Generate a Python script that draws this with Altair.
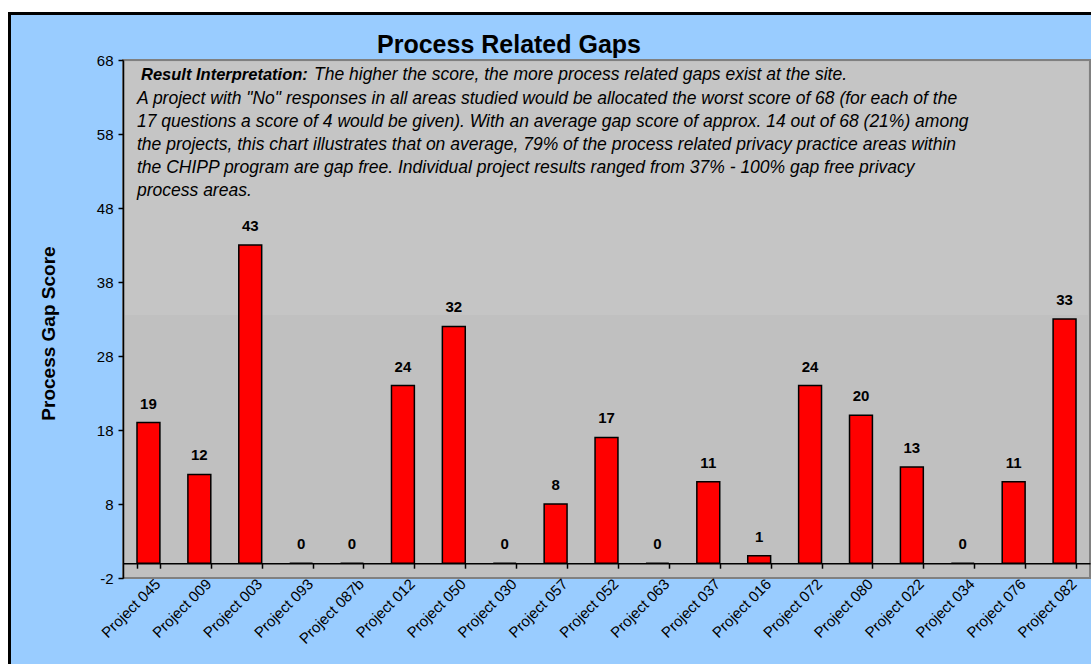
import altair as alt
import pandas as pd

# ---- data ----
projects = ["Project 045", "Project 009", "Project 003", "Project 093", "Project 087b",
            "Project 012", "Project 050", "Project 030", "Project 057", "Project 052",
            "Project 063", "Project 037", "Project 016", "Project 072", "Project 080",
            "Project 022", "Project 034", "Project 076", "Project 082"]
scores = [19, 12, 43, 0, 0, 24, 32, 0, 8, 17, 0, 11, 1, 24, 20, 13, 0, 11, 33]
y_ticks = [-2, 8, 18, 28, 38, 48, 58, 68]
title_text = "Process Related Gaps"
y_title = "Process Gap Score"
note_head = "Result Interpretation:"
note_first = "The higher the score, the more process related gaps exist at the site."
note_lines = [
    'A project with "No" responses in all areas studied would be allocated the worst score of 68 (for each of the',
    '17 questions a score of 4 would be given). With an average gap score of approx. 14 out of 68 (21%) among',
    'the projects, this chart illustrates that on average, 79% of the process related privacy practice areas within',
    'the CHIPP program are gap free. Individual project results ranged from 37% - 100% gap free privacy',
    'process areas.',
]

W, H = 967, 518
FONT = "Liberation Sans"
NOTE_SIZE = 17.5
HEAD_SIZE = 16.5

df = pd.DataFrame({"project": projects, "score": scores})
one = pd.DataFrame({"k": [0]})

x_enc = alt.X(
    "project:N", sort=projects, title=None,
    scale=alt.Scale(paddingInner=0.55, paddingOuter=0.275),
    axis=alt.Axis(
        offset=-14.8, domainColor="black", domainWidth=1.5, tickColor="black",
        tickWidth=1.5, tickSize=5, tickBand="extent", labelAngle=-45,
        labelAlign="right", labelBaseline="top", labelPadding=8, labelOffset=4,
        labelFont=FONT, labelFontSize=15, labelColor="black", zindex=2,
    ),
)
y_enc = alt.Y(
    "score:Q",
    scale=alt.Scale(domain=[-2, 68], nice=False, zero=False),
    axis=alt.Axis(
        values=y_ticks, grid=False, domainColor="black", domainWidth=1.5,
        tickColor="black", tickWidth=1.5, tickSize=5, labelPadding=5,
        labelExpr="datum.value < 0 ? '-' + abs(datum.value) : '' + datum.value",
        labelFont=FONT, labelFontSize=15, labelColor="black",
        title=y_title, titleFont=FONT, titleFontSize=19, titleFontWeight="bold",
        titleColor="black", titleAngle=270, titleX=-75, titleY=273,
        titleAlign="center", titleBaseline="middle", zindex=2,
    ),
)

# decorative frame pieces
white_top = alt.Chart(one).mark_rect(color="white").encode(
    x=alt.value(-123), x2=alt.value(W + 10), y=alt.value(-60), y2=alt.value(-47))
white_left = alt.Chart(one).mark_rect(color="white").encode(
    x=alt.value(-123), x2=alt.value(-115), y=alt.value(-60), y2=alt.value(H + 90))
border = alt.Chart(one).mark_rect(fill=None, stroke="black", strokeWidth=3).encode(
    x=alt.value(-113.5), x2=alt.value(W + 20), y=alt.value(-46.5), y2=alt.value(H + 100))
note_box = alt.Chart(one).mark_rect(color="#C5C5C5").encode(
    x=alt.value(2), x2=alt.value(W - 2), y=alt.value(2), y2=alt.value(255))

bars = alt.Chart(df).mark_bar(color="#FF0000", stroke="black", strokeWidth=1.5).encode(
    x=x_enc, y=y_enc, y2=alt.datum(0))
labels = alt.Chart(df).mark_text(
    dy=-19, font=FONT, fontSize=15, fontWeight="bold", color="black", baseline="middle"
).encode(x=alt.X("project:N", sort=projects), y="score:Q", text="score:Q")

title = alt.Chart(one).mark_text(
    font=FONT, fontSize=25, fontWeight="bold", color="black", align="center", baseline="middle"
).encode(x=alt.value(386), y=alt.value(-15), text=alt.value(title_text))

head = alt.Chart(one).mark_text(
    font=FONT, fontSize=HEAD_SIZE, fontWeight="bold", fontStyle="italic", color="black",
    align="left", baseline="middle"
).encode(x=alt.value(18), y=alt.value(15), text=alt.value(note_head))
first = alt.Chart(one).mark_text(
    font=FONT, fontSize=NOTE_SIZE, fontStyle="italic", color="black", align="left",
    baseline="middle"
).encode(x=alt.value(191), y=alt.value(15), text=alt.value(note_first))
rest = alt.Chart(one).mark_text(
    font=FONT, fontSize=NOTE_SIZE, fontStyle="italic", color="black", align="left",
    baseline="middle", lineBreak="\n", lineHeight=23
).encode(x=alt.value(14), y=alt.value(39), text=alt.value("\n".join(note_lines)))

chart = alt.layer(
    white_top, white_left, border, note_box, bars, labels, title, head, first, rest
).properties(
    width=W, height=H,
    autosize=alt.AutoSizeParams(type="none"),
    padding={"left": 123, "top": 60, "right": 1, "bottom": 86},
).configure(
    background="#99CCFF",
).configure_view(
    fill="#C0C0C0", stroke="#808080", strokeWidth=2,
)

chart.save("out.html", embed_options={"renderer": "svg", "actions": False})
